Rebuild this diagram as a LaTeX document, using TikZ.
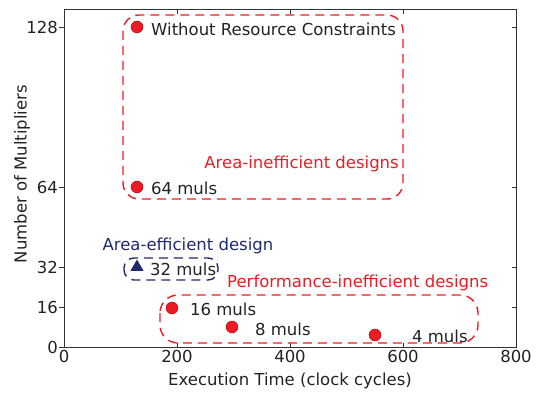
\documentclass[tikz,border=0pt]{standalone}
\usepackage{fontspec}
\setmainfont{DejaVu Sans}
\usetikzlibrary{shapes.geometric}
\definecolor{dred}{HTML}{ED1C24}
\definecolor{dblue}{HTML}{1F2A6E}
\definecolor{axgray}{HTML}{333333}
\definecolor{txt}{HTML}{222222}
\begin{document}
\begin{tikzpicture}[x=1pt,y=-1pt,
  lab/.style={font=\fontsize{16.5}{19}\selectfont, text=txt, inner sep=0pt},
  tick/.style={axgray, line width=0.8pt},
  dot/.style={circle, fill=dred, draw=red!60!black, line width=0.4pt, minimum size=12pt, inner sep=0pt},
  tri/.style={regular polygon, regular polygon sides=3, fill=dblue, minimum size=15pt, inner sep=0pt},
  redbox/.style={draw=dred, dash pattern=on 9pt off 6pt, line width=1.4pt},
  bluebox/.style={draw=dblue, dash pattern=on 9pt off 6pt, line width=1.4pt},
  ptlab/.style={lab, anchor=west}]
\useasboundingbox (0,0) rectangle (541,393);
% frame
\draw[axgray, line width=1pt] (64,10) rectangle (516,347);
% y ticks
\foreach \v/\yy in {0/347,16/307,32/267,64/187,128/27}{
  \draw[tick] (59,\yy) -- (64,\yy);
  \draw[tick] (512,\yy) -- (516,\yy);
  \node[lab, anchor=east] (yt\v) at (58,\yy) {\v};
}
% x ticks
\foreach \v/\xx in {0/64,200/177,400/290,600/403,800/516}{
  \draw[tick] (\xx,347) -- (\xx,343);
  \draw[tick] (\xx,10) -- (\xx,14);
  \node[lab, anchor=north] (xt\v) at (\xx,350) {\v};
}
\node[lab] (xlabel) at (290,381) {Execution Time (clock cycles)};
\node[lab, rotate=90] (ylabel) at (22,174) {Number of Multipliers};
% boxes
\draw[redbox, rounded corners=16pt] (123,15) rectangle (403,199);
\draw[bluebox, rounded corners=10pt] (124,258) rectangle (218,280);
\draw[redbox, rounded corners=18pt] (160,295) rectangle (478,343);
% group labels
\node[lab, text=dred, anchor=east] (ai) at (399,164) {Area-inefficient designs};
\node[lab, text=dblue] (ae) at (188,246) {Area-efficient design};
\node[lab, text=dred, anchor=west] (pi) at (227,283) {Performance-inefficient designs};
% points
\node[dot] (p128) at (137,27) {};
\node[dot] (p64) at (137,187) {};
\node[tri] (p32) at (137,267) {};
\node[dot] (p16) at (172,308) {};
\node[dot] (p8) at (232,327) {};
\node[dot] (p4) at (375,335) {};
\node[ptlab] (l128) at (151,29) {Without Resource Constraints};
\node[ptlab] (l64) at (151,188) {64 muls};
\node[ptlab] (l32) at (150,269) {32 muls};
\node[ptlab] (l16) at (190,309) {16 muls};
\node[ptlab] (l8) at (255,329) {8 muls};
\node[ptlab] (l4) at (412,336) {4 muls};
\end{tikzpicture}
\end{document}
